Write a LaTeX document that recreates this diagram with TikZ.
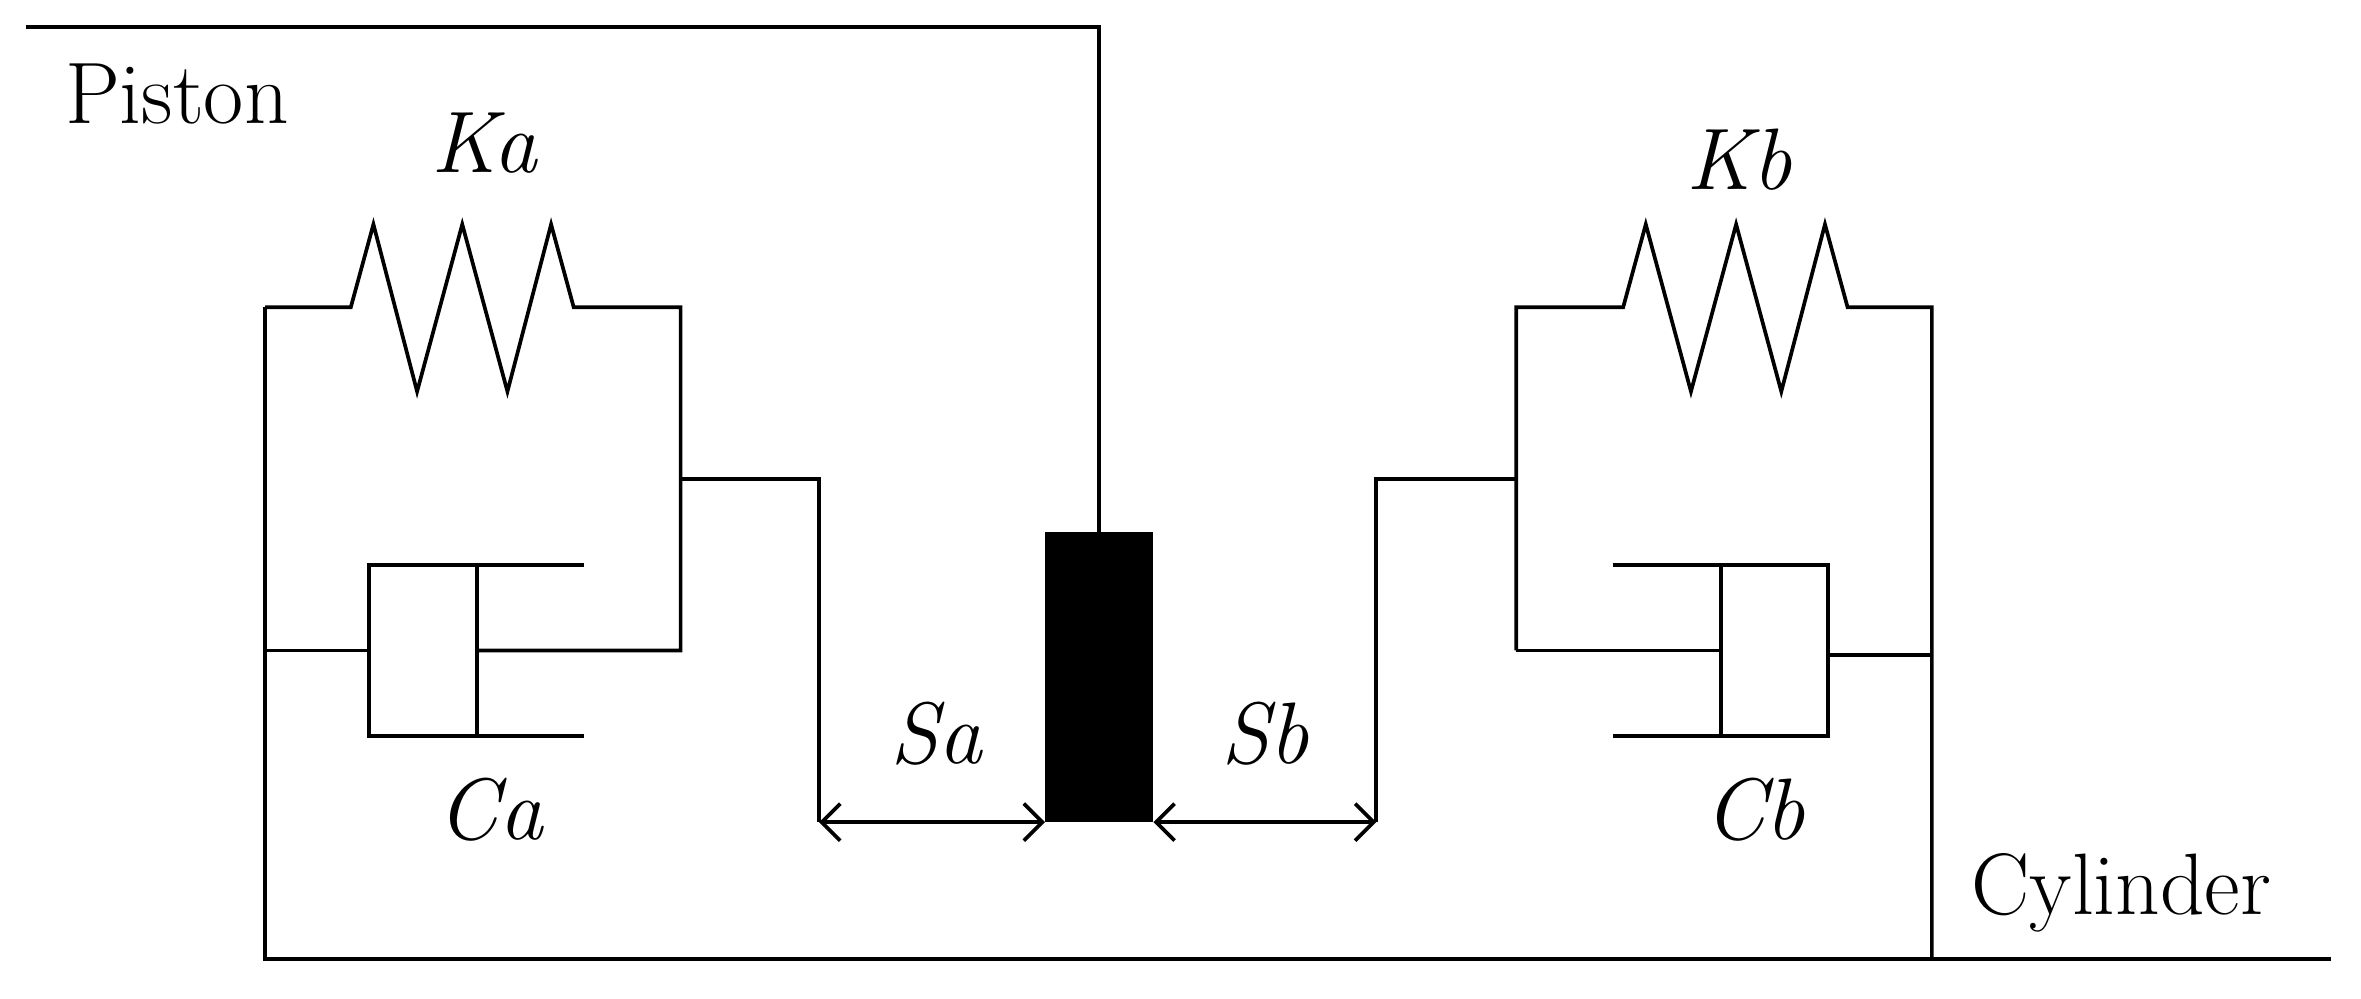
\documentclass[tikz,border=0pt]{standalone}
\usetikzlibrary{arrows.meta}
\begin{document}
\begin{tikzpicture}[x=0.02cm,y=-0.02cm,line width=1.4pt,
  lbl/.style={font=\fontsize{33}{40}\selectfont,inner sep=0pt},
  dim/.style={{Straight Barb[length=7pt,width=14pt]}-{Straight Barb[length=7pt,width=14pt]}}]
\useasboundingbox (0,0) rectangle (1568,663);
% piston
\node[lbl,anchor=base west] (pist) at (42,82) {Piston};
\node[lbl,anchor=base west] (cyl) at (1308,607) {Cylinder};
\fill (694,353) rectangle (766,546);
\coordinate (pt) at (730,353);
\draw (17,18) -- (730,18) -- (pt);
% left unit
\draw (176,204) -- (233,204) -- (248,149) -- (277,260) -- (307,149) -- (337,260) -- (366,149) -- (381,204) -- (452,204) -- (452,432) -- (317,432);
\draw (176,204) -- (176,637) -- (1548,637);
\draw (176,432) -- (245,432);
\draw (388,375) -- (245,375) -- (245,489) -- (388,489);
\draw (317,375) -- (317,489);
\draw (452,318) -- (544,318) -- (544,546);
\coordinate (sal) at (544,546);
\coordinate (sar) at (694,546);
\draw[dim] (sal) -- (sar);
\node[lbl] (ka) at (322,95) {\textit{Ka}};
\node[lbl] (ca) at (326,538) {\textit{Ca}};
\node[lbl] (sa) at (622,487) {\textit{Sa}};
% right unit
\coordinate (sbl) at (766,546);
\coordinate (sbr) at (914,546);
\draw[dim] (sbl) -- (sbr);
\draw (914,546) -- (914,318) -- (1007,318);
\draw (1007,432) -- (1007,204) -- (1078,204) -- (1093,149) -- (1123,260) -- (1153,149) -- (1183,260) -- (1212,149) -- (1227,204) -- (1283,204) -- (1283,637);
\draw (1007,432) -- (1143,432);
\draw (1071,375) -- (1214,375) -- (1214,489) -- (1071,489);
\draw (1143,375) -- (1143,489);
\draw (1214,435) -- (1283,435);
\node[lbl] (kb) at (1155,106) {\textit{Kb}};
\node[lbl] (cb) at (1165,538) {\textit{Cb}};
\node[lbl] (sb) at (840,487) {\textit{Sb}};
\end{tikzpicture}
\end{document}
